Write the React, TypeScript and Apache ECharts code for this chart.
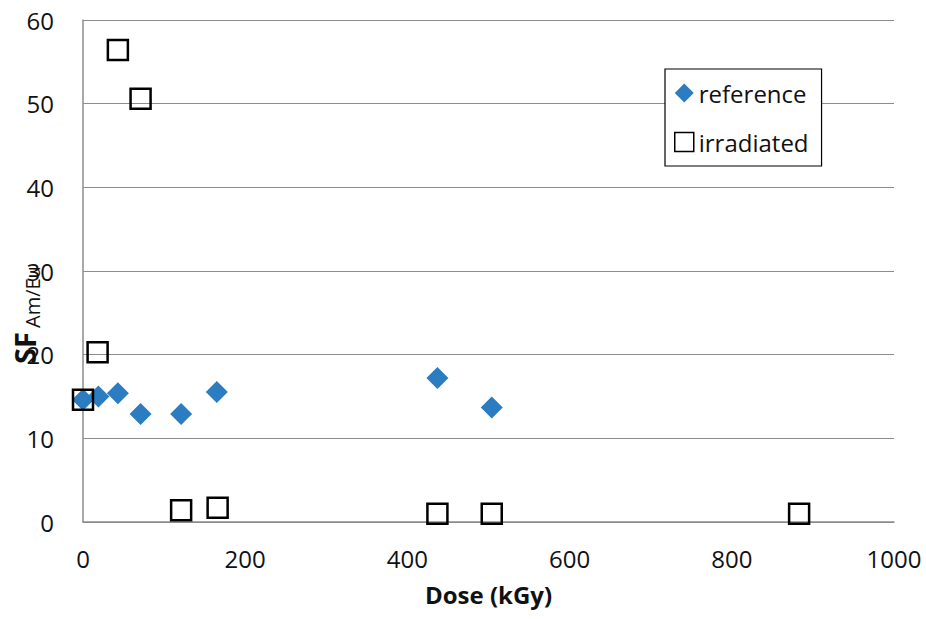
import React, { useEffect, useRef } from "react";
import * as echarts from "echarts";

const doseRef: number[] = [0, 19, 43, 71, 121, 165, 437, 504];
const sfRef: number[] = [14.6, 15.0, 15.4, 12.9, 12.9, 15.55, 17.2, 13.7];
const doseIrr: number[] = [0, 18, 43, 71, 121, 166, 437, 504, 883];
const sfIrr: number[] = [14.6, 20.3, 56.4, 50.6, 1.4, 1.7, 1.0, 1.0, 1.0];
const seriesNames: string[] = ["reference", "irradiated"];
const xTitle = "Dose (kGy)";
const yTitleMain = "SF";
const yTitleSub = "Am/Eu";

const FONT = "'Open Sans', 'Noto Sans', 'Liberation Sans', sans-serif";

export default function App() {
  const ref = useRef<HTMLDivElement>(null);
  useEffect(() => {
    if (!ref.current) return;
    const chart = echarts.init(ref.current, null, { renderer: "svg" });
    const refData = doseRef.map((d, i) => [d, sfRef[i]]);
    const irrData = doseIrr.map((d, i) => [d, sfIrr[i]]);
    chart.setOption({
      animation: false,
      backgroundColor: "#ffffff",
      textStyle: { fontFamily: FONT, color: "#111" },
      grid: {
        left: 83,
        right: 32,
        top: 20,
        bottom: 97,
        containLabel: false,
        outerBoundsMode: "none",
      },
      xAxis: {
        type: "value",
        min: 0,
        max: 1000,
        interval: 200,
        name: xTitle,
        nameLocation: "middle",
        nameGap: 60,
        nameTextStyle: { fontFamily: FONT, fontSize: 24, fontWeight: "bold", color: "#111" },
        axisLine: { show: true, onZero: false, lineStyle: { color: "#8c8c8c", width: 1.5 } },
        axisTick: { show: false },
        splitLine: { show: false },
        axisLabel: {
          fontFamily: FONT,
          fontSize: 24,
          color: "#111",
          margin: 24,
          formatter: (v: number) => String(v),
        },
      },
      yAxis: {
        type: "value",
        min: 0,
        max: 60,
        interval: 10,
        axisLine: { show: true, onZero: false, lineStyle: { color: "#8c8c8c", width: 1.5 } },
        axisTick: { show: false },
        splitLine: { show: true, lineStyle: { color: "#8c8c8c", width: 1.2 } },
        axisLabel: { fontFamily: FONT, fontSize: 24, color: "#111", margin: 29 },
      },
      legend: {
        orient: "vertical",
        left: 665,
        top: 69,
        padding: [10, 13, 10, 9],
        itemGap: 21,
        itemWidth: 19,
        itemHeight: 19,
        backgroundColor: "#ffffff",
        borderColor: "#000",
        borderWidth: 1.2,
        borderRadius: 0,
        textStyle: { fontFamily: FONT, fontSize: 24, color: "#111", lineHeight: 28 },
        data: [
          { name: seriesNames[0], icon: "diamond", itemStyle: { color: "#2B7CC1" } },
          {
            name: seriesNames[1],
            icon: "rect",
            itemStyle: { color: "#ffffff", borderColor: "#000", borderWidth: 1.5 },
          },
        ],
      },
      graphic: [
        {
          type: "text",
          x: 24,
          y: 364,
          rotation: Math.PI / 2,
          style: {
            text: yTitleMain,
            fontFamily: FONT,
            fontSize: 29,
            fontWeight: "bold",
            fill: "#111",
            align: "left",
            verticalAlign: "middle",
          },
        },
        {
          type: "text",
          x: 32,
          y: 328,
          rotation: Math.PI / 2,
          style: {
            text: yTitleSub,
            fontFamily: FONT,
            fontSize: 20,
            fill: "#111",
            align: "left",
            verticalAlign: "middle",
          },
        },
      ],
      series: [
        {
          name: seriesNames[0],
          type: "scatter",
          symbol: "diamond",
          symbolSize: 22,
          itemStyle: { color: "#2B7CC1", opacity: 1 },
          data: refData,
          z: 2,
        },
        {
          name: seriesNames[1],
          type: "scatter",
          symbol: "rect",
          symbolSize: 20,
          itemStyle: { color: "rgba(0,0,0,0)", borderColor: "#000", borderWidth: 2.5, opacity: 1 },
          data: irrData,
          z: 3,
        },
      ],
    });
    return () => chart.dispose();
  }, []);
  return (
    <div
      ref={ref}
      style={{ position: "absolute", left: 0, top: 0, width: 926, height: 619 }}
    />
  );
}
